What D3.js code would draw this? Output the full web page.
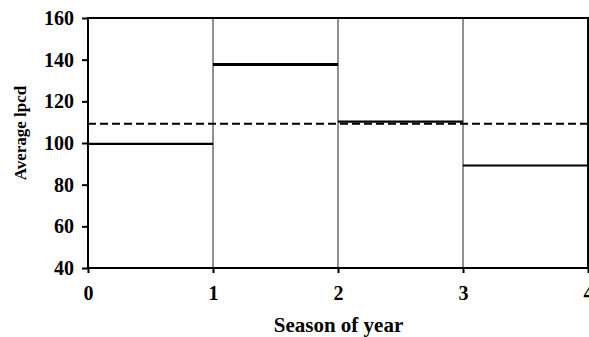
<!DOCTYPE html>
<html>
<head>
<meta charset="utf-8">
<script src="https://cdn.jsdelivr.net/npm/d3@7"></script>
<style>
  body { margin: 0; background: #fff; }
  text { font-family: "Liberation Serif", "Times New Roman", serif; fill: #000; }
</style>
</head>
<body>
<div id="plot"></div>
<script>
// Seasonal averages (step per season)
var seasons = [1, 2, 3, 4];
var avgLpcd = [99.6, 137.7, 110.3, 89.2];
var annualAvg = 109.2;
var xTicks = [0, 1, 2, 3, 4];
var yTicks = [40, 60, 80, 100, 120, 140, 160];

var width = 589,
    height = 337,
    margin = { top: 18, right: 1, bottom: 69, left: 88 };

var x = d3.scaleLinear().domain([0, 4]).range([margin.left, width - margin.right]);
var y = d3.scaleLinear().domain([40, 160]).range([height - margin.bottom, margin.top]);

var svg = d3.select('#plot')
    .append('svg')
    .attr('width', width)
    .attr('height', height);

// Season dividers
svg.append('g')
    .selectAll('line')
    .data([1, 2, 3])
    .enter()
    .append('line')
    .attr('x1', function(d) { return x(d); })
    .attr('x2', function(d) { return x(d); })
    .attr('y1', y(160))
    .attr('y2', y(40))
    .attr('stroke', '#222')
    .attr('stroke-width', 1);

// Annual average (dashed)
svg.append('line')
    .attr('x1', x(0))
    .attr('x2', x(4))
    .attr('y1', y(annualAvg))
    .attr('y2', y(annualAvg))
    .attr('stroke', '#000')
    .attr('stroke-width', 2)
    .attr('stroke-dasharray', '8,4');

// Season steps
svg.append('g')
    .selectAll('line')
    .data(seasons)
    .enter()
    .append('line')
    .attr('x1', function(d) { return x(d - 1); })
    .attr('x2', function(d) { return x(d); })
    .attr('y1', function(d, i) { return y(avgLpcd[i]); })
    .attr('y2', function(d, i) { return y(avgLpcd[i]); })
    .attr('stroke', '#000')
    .attr('stroke-width', function(d, i) { return i === 1 ? 3 : 2.2; });

// Frame
svg.append('rect')
    .attr('x', x(0))
    .attr('y', y(160))
    .attr('width', x(4) - x(0))
    .attr('height', y(40) - y(160))
    .attr('fill', 'none')
    .attr('stroke', '#000')
    .attr('stroke-width', 2);

// Axes
var xAxis = svg.append('g')
    .attr('transform', 'translate(0,' + y(40) + ')')
    .call(d3.axisBottom(x).tickValues(xTicks).tickFormat(d3.format('d')).tickSize(5).tickPadding(13));

var yAxis = svg.append('g')
    .attr('transform', 'translate(' + x(0) + ',0)')
    .call(d3.axisLeft(y).tickValues(yTicks).tickSize(6).tickPadding(8));

[xAxis, yAxis].forEach(function(a) {
    a.select('.domain').remove();
    a.selectAll('line').attr('stroke', '#000').attr('stroke-width', 2);
    a.selectAll('text')
        .attr('font-size', 20)
        .attr('font-family', '"Liberation Serif", serif')
        .attr('font-weight', 'bold');
});

// Axis titles
svg.append('text')
    .attr('x', 338.5)
    .attr('y', 332)
    .attr('text-anchor', 'middle')
    .attr('font-size', 21)
    .attr('font-weight', 'bold')
    .text('Season of year');

svg.append('text')
    .attr('transform', 'translate(26,133) rotate(-90)')
    .attr('text-anchor', 'middle')
    .attr('font-size', 17)
    .attr('font-weight', 'bold')
    .text('Average lpcd');
</script>
</body>
</html>
